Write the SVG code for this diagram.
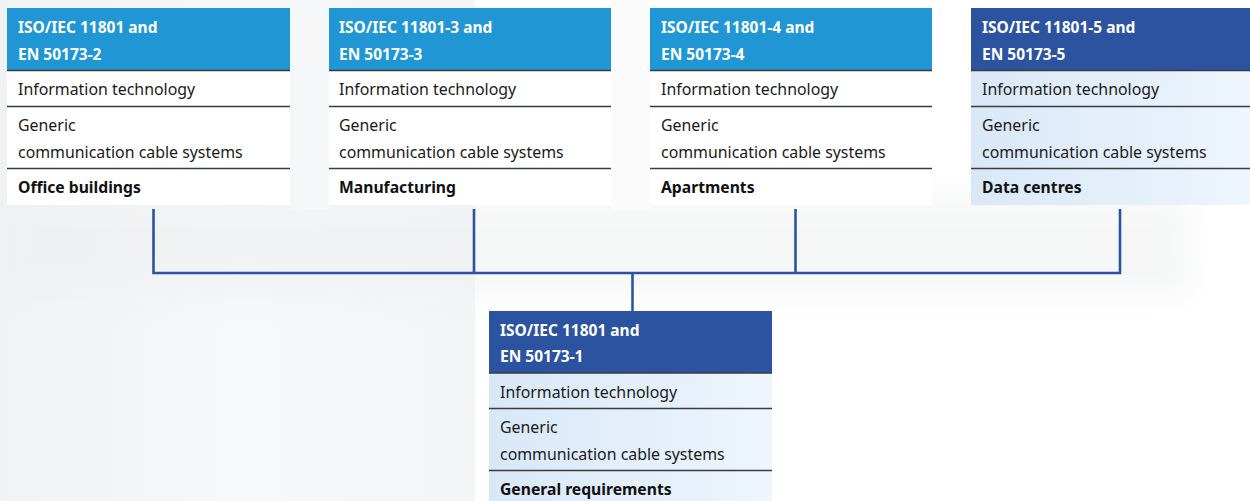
<svg xmlns="http://www.w3.org/2000/svg" width="1250" height="501" viewBox="0 0 1250 501">
<defs>
<style>
.hdr-light{fill:#2097d4}
.hdr-dark{fill:#2c53a0}
.body-white{fill:#ffffff}
.body-blue{fill:url(#blueGrad)}
.div{stroke:#3a3d40;stroke-width:1.6;fill:none}
.ht{font-family:"Noto Sans","Open Sans","Liberation Sans",sans-serif;font-size:15.5px;font-weight:bold;fill:#ffffff}
.bt{font-family:"Noto Sans","Open Sans","Liberation Sans",sans-serif;font-size:15.9px;fill:#1a1a1a}
.bb{font-family:"Noto Sans","Open Sans","Liberation Sans",sans-serif;font-size:15.7px;font-weight:bold;fill:#111111}
.conn{stroke:#2c53a0;stroke-width:2.6;fill:none}
</style>
<linearGradient id="blueGrad" x1="0" y1="0" x2="1" y2="0">
<stop offset="0" stop-color="#d9e8f7"/>
<stop offset="1" stop-color="#eef5fd"/>
</linearGradient>
<linearGradient id="leftBg" x1="0" y1="0" x2="1" y2="0">
<stop offset="0" stop-color="#f1f2f3"/>
<stop offset="0.5" stop-color="#f7f8f9"/>
<stop offset="1" stop-color="#f4f5f6"/>
</linearGradient>
<filter id="blur" x="-20%" y="-50%" width="140%" height="200%">
<feGaussianBlur stdDeviation="14"/>
</filter>
</defs>
<rect width="1250" height="501" fill="#ffffff"/>
<g id="background">
<rect x="0" y="0" width="475" height="501" fill="url(#leftBg)"/>
<rect x="0" y="195" width="1190" height="100" fill="#eceeef" opacity="0.5" filter="url(#blur)"/>
<rect x="290" y="0" width="39" height="210" fill="#f6f7f8"/>
<rect x="611" y="0" width="39" height="210" fill="#fbfbfb"/>
</g>
<g id="connectors">
<path class="conn" d="M153.5 209 V273 H1120 V209"/>
<path class="conn" d="M474 209 V273"/>
<path class="conn" d="M795.5 209 V273"/>
<path class="conn" d="M632.5 273 V311"/>
</g>
<g id="node-office">
<rect class="hdr-light" x="7" y="8" width="283" height="62"/>
<rect class="body-white" x="7" y="70" width="283" height="135"/>
<path class="div" d="M7 70.5 H290 M7 106.5 H290 M7 168.5 H290"/>
<text class="ht" x="18" y="33">ISO/IEC 11801 and</text>
<text class="ht" x="18" y="60">EN 50173-2</text>
<text class="bt" x="18" y="95">Information technology</text>
<text class="bt" x="18" y="131">Generic</text>
<text class="bt" x="18" y="158">communication cable systems</text>
<text class="bb" x="18" y="193">Office buildings</text>
</g>
<g id="node-manufacturing">
<rect class="hdr-light" x="329" y="8" width="282" height="62"/>
<rect class="body-white" x="329" y="70" width="282" height="135"/>
<path class="div" d="M329 70.5 H611 M329 106.5 H611 M329 168.5 H611"/>
<text class="ht" x="339" y="33">ISO/IEC 11801-3 and</text>
<text class="ht" x="339" y="60">EN 50173-3</text>
<text class="bt" x="339" y="95">Information technology</text>
<text class="bt" x="339" y="131">Generic</text>
<text class="bt" x="339" y="158">communication cable systems</text>
<text class="bb" x="339" y="193">Manufacturing</text>
</g>
<g id="node-apartments">
<rect class="hdr-light" x="650" y="8" width="282" height="62"/>
<rect class="body-white" x="650" y="70" width="282" height="135"/>
<path class="div" d="M650 70.5 H932 M650 106.5 H932 M650 168.5 H932"/>
<text class="ht" x="661" y="33">ISO/IEC 11801-4 and</text>
<text class="ht" x="661" y="60">EN 50173-4</text>
<text class="bt" x="661" y="95">Information technology</text>
<text class="bt" x="661" y="131">Generic</text>
<text class="bt" x="661" y="158">communication cable systems</text>
<text class="bb" x="661" y="193">Apartments</text>
</g>
<g id="node-datacentres">
<rect class="hdr-dark" x="971" y="8" width="279" height="62"/>
<rect class="body-blue" x="971" y="70" width="279" height="135"/>
<path class="div" d="M971 70.5 H1250 M971 106.5 H1250 M971 168.5 H1250"/>
<text class="ht" x="982" y="33">ISO/IEC 11801-5 and</text>
<text class="ht" x="982" y="60">EN 50173-5</text>
<text class="bt" x="982" y="95">Information technology</text>
<text class="bt" x="982" y="131">Generic</text>
<text class="bt" x="982" y="158">communication cable systems</text>
<text class="bb" x="982" y="193">Data centres</text>
</g>
<g id="node-general">
<rect class="hdr-dark" x="489" y="311" width="283" height="62"/>
<rect class="body-blue" x="489" y="373" width="283" height="128"/>
<path class="div" d="M489 373 H772 M489 408.5 H772 M489 470.5 H772"/>
<text class="ht" x="500" y="336">ISO/IEC 11801 and</text>
<text class="ht" x="500" y="362">EN 50173-1</text>
<text class="bt" x="500" y="398">Information technology</text>
<text class="bt" x="500" y="433">Generic</text>
<text class="bt" x="500" y="460">communication cable systems</text>
<text class="bb" x="500" y="495">General requirements</text>
</g>
</svg>
